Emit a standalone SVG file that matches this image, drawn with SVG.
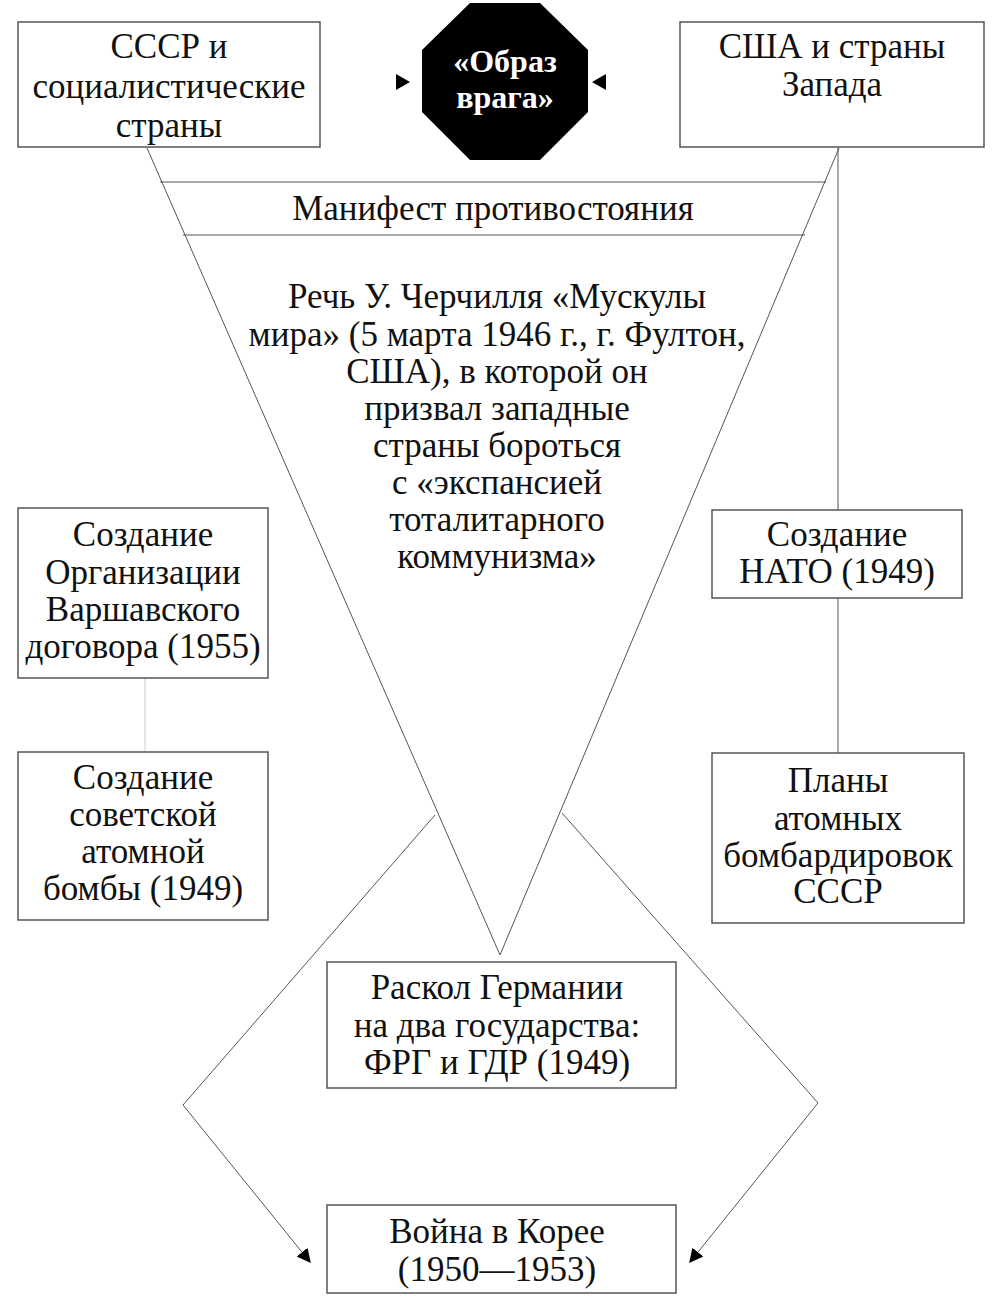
<svg xmlns="http://www.w3.org/2000/svg" width="1000" height="1299" viewBox="0 0 1000 1299">
<defs>
<style>
.b{fill:#fff;stroke:#555;stroke-width:1.5}
.t{font-family:"Liberation Serif",serif;font-size:35px;fill:#111;text-anchor:middle}
.w{font-family:"Liberation Serif",serif;font-size:32px;font-weight:bold;fill:#fff;text-anchor:middle}
.l{stroke:#555;stroke-width:1;fill:none}
</style>
<marker id="a" viewBox="0 0 10 10" refX="9" refY="5" markerWidth="14" markerHeight="14" markerUnits="userSpaceOnUse" orient="auto"><path d="M0,0L10,5L0,10z" fill="#000"/></marker>
</defs>
<rect width="1000" height="1299" fill="#fff"/>
<g id="connectors">
<line class="l" x1="147" y1="148" x2="500" y2="955"/>
<line class="l" x1="839" y1="148" x2="500" y2="955"/>
<line class="l" x1="160" y1="182" x2="826" y2="182"/>
<line class="l" x1="183" y1="235" x2="805" y2="235"/>
<line class="l" x1="838" y1="148" x2="838" y2="510"/>
<line class="l" x1="838" y1="598" x2="838" y2="753"/>
<line class="l" x1="145" y1="678" x2="145" y2="752" stroke-opacity="0.3"/>
<polyline class="l" points="435,815 183,1105 310,1262" marker-end="url(#a)"/>
<polyline class="l" points="562,813 818,1103 690,1262" marker-end="url(#a)"/>
<path d="M396,74L410,82L396,90z" fill="#000"/>
<path d="M606,74L592,82L606,90z" fill="#000"/>
</g>
<g id="ussr"><rect class="b" x="18" y="22" width="302" height="125"/>
<text class="t" x="169" y="58">СССР и</text><text class="t" x="169" y="98">социалистические</text><text class="t" x="169" y="137">страны</text></g>
<g id="enemy"><polygon points="470,3 540,3 588,50 588,112 540,160 470,160 422,112 422,50" fill="#000"/>
<text class="w" x="505" y="72">«Образ</text><text class="w" x="505" y="108">врага»</text></g>
<g id="usa"><rect class="b" x="680" y="22" width="304" height="125"/>
<text class="t" x="832" y="58">США и страны</text><text class="t" x="832" y="96">Запада</text></g>
<g id="manifest"><text class="t" x="493" y="220">Манифест противостояния</text></g>
<g id="speech">
<text class="t" x="497" y="308">Речь У. Черчилля «Мускулы</text>
<text class="t" x="497" y="346">мира» (5 марта 1946 г., г. Фултон,</text>
<text class="t" x="497" y="383">США), в которой он</text>
<text class="t" x="497" y="420">призвал западные</text>
<text class="t" x="497" y="457">страны бороться</text>
<text class="t" x="497" y="494">с «экспансией</text>
<text class="t" x="497" y="531">тоталитарного</text>
<text class="t" x="497" y="568">коммунизма»</text></g>
<g id="warsaw"><rect class="b" x="18" y="508" width="250" height="170"/>
<text class="t" x="143" y="546">Создание</text><text class="t" x="143" y="584">Организации</text><text class="t" x="143" y="621">Варшавского</text><text class="t" x="143" y="658">договора (1955)</text></g>
<g id="nato"><rect class="b" x="712" y="510" width="250" height="88"/>
<text class="t" x="837" y="546">Создание</text><text class="t" x="837" y="583">НАТО (1949)</text></g>
<g id="bomb"><rect class="b" x="18" y="752" width="250" height="168"/>
<text class="t" x="143" y="789">Создание</text><text class="t" x="143" y="826">советской</text><text class="t" x="143" y="863">атомной</text><text class="t" x="143" y="900">бомбы (1949)</text></g>
<g id="plans"><rect class="b" x="712" y="753" width="252" height="170"/>
<text class="t" x="838" y="792">Планы</text><text class="t" x="838" y="830">атомных</text><text class="t" x="838" y="867">бомбардировок</text><text class="t" x="838" y="903">СССР</text></g>
<g id="germany"><rect class="b" x="327" y="962" width="349" height="126"/>
<text class="t" x="497" y="999">Раскол Германии</text><text class="t" x="497" y="1037">на два государства:</text><text class="t" x="497" y="1074">ФРГ и ГДР (1949)</text></g>
<g id="korea"><rect class="b" x="327" y="1205" width="349" height="88"/>
<text class="t" x="497" y="1243">Война в Корее</text><text class="t" x="497" y="1281">(1950—1953)</text></g>
</svg>
